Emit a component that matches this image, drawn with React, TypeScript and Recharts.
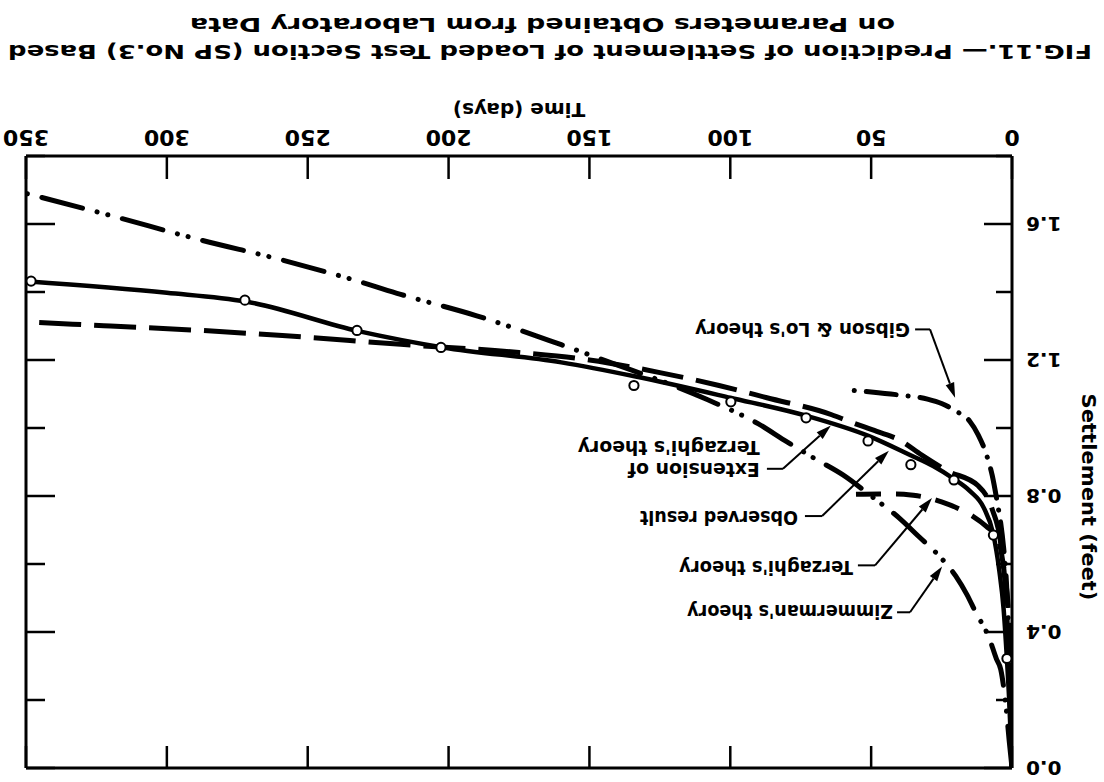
import React from 'react';
import { ComposedChart, Line, Scatter, XAxis, YAxis, ReferenceLine, ReferenceDot } from 'recharts';

type P = { d: number; s: number };
const toPts = (a: number[][]): P[] => a.map(([d, s]) => ({ d, s }));

// axes
const timeTicks = [0, 50, 100, 150, 200, 250, 300, 350];
const settlementTicks = [0, 0.2, 0.4, 0.6, 0.8, 1.0, 1.2, 1.4, 1.6, 1.8];

// series: [time (days), settlement (feet)]
const observedCurve = toPts([
  [0, 0], [0.5, 0.1], [1, 0.2], [1.8, 0.32], [3, 0.47], [4.5, 0.58], [6.7, 0.69], [10, 0.765],
  [15, 0.815], [20.6, 0.85], [28, 0.888], [36, 0.92], [51, 0.977], [73, 1.036], [100, 1.089],
  [134, 1.152], [160, 1.193], [202, 1.237], [232, 1.285], [272, 1.372], [300, 1.398], [350, 1.432],
]);
const observedPoints = toPts([
  [348.2, 1.432], [272.3, 1.376], [232.5, 1.287], [202.7, 1.237], [134.2, 1.125], [99.8, 1.077],
  [73.1, 1.03], [51.1, 0.962], [35.9, 0.892], [20.6, 0.847], [6.6, 0.685], [1.8, 0.322],
]);
const extensionTerzaghi = toPts([
  [0, 0], [1, 0.28], [2, 0.48], [4, 0.66], [7, 0.76], [12, 0.83], [23, 0.874], [32, 0.92],
  [40, 0.965], [48, 0.99], [58, 1.02], [64, 1.039], [87, 1.089], [104, 1.125], [125, 1.163],
  [150, 1.2], [175, 1.222], [217, 1.246], [259, 1.272], [288, 1.287], [320, 1.3], [350, 1.312],
]);
const terzaghi = toPts([
  [0, 0], [0.5, 0.2], [1, 0.38], [1.4, 0.478], [2.5, 0.56], [4.3, 0.655], [6, 0.685], [9, 0.71],
  [14, 0.741], [19.5, 0.765], [25, 0.783], [30, 0.795], [35, 0.802], [41, 0.806], [47, 0.806], [56, 0.805],
]);
const gibsonLo = toPts([
  [0, 0], [0.6, 0.2], [1.2, 0.4], [2, 0.55], [3, 0.65], [4, 0.72], [5, 0.77], [7, 0.86], [9, 0.92],
  [12, 0.98], [15, 1.02], [20, 1.05], [25, 1.072], [30, 1.085], [40, 1.097], [50, 1.106], [60, 1.113],
]);
const zimmerman = toPts([
  [0, 0], [1, 0.08], [2, 0.17], [3, 0.24], [4, 0.29], [5.5, 0.32], [8, 0.38], [13, 0.46], [16, 0.51],
  [20, 0.565], [26, 0.625], [33, 0.68], [40, 0.735], [50, 0.8], [60, 0.862], [70, 0.91], [80, 0.96],
  [90, 1.012], [108, 1.083], [125, 1.14], [140, 1.185], [160, 1.245], [190, 1.33], [217, 1.393],
  [231, 1.429], [259, 1.494], [288, 1.553], [320, 1.625], [350, 1.69],
]);

// annotation anchors in data units [time, settlement]
const labelTexts = ["Gibson & Lo's theory", 'Extension of', "Terzaghi's theory", 'Observed result', "Terzaghi's theory", "Zimmerman's theory"];
const labelAnchors = [[36.2, 1.287], [89.5, 0.877], [89.5, 0.942], [76, 0.735], [56.4, 0.587], [42.2, 0.46]];
const leaderPaths = [
  [[34.4, 1.29], [29.1, 1.29], [20.2, 1.089]],
  [[87, 0.88], [81.3, 0.88], [64.3, 1.007]],
  [[73.5, 0.741], [67.4, 0.741], [43.7, 0.933]],
  [[54.7, 0.596], [48.6, 0.596], [28.4, 0.794]],
  [[40.8, 0.458], [36.2, 0.458], [24.8, 0.593]],
];

const FONT = '"DejaVu Sans", "Liberation Sans", sans-serif';
const labelWidths = [215, 132, 182, 158, 174, 206];

const isMajor = (v: number) => Math.round(v * 10) % 4 === 0;

const BottomTick = (p: any) => (
  <g>
    <line x1={p.x} y1={p.y} x2={p.x} y2={p.y - 23} stroke="#000" strokeWidth={2.5} />
    <text x={p.x} y={p.y + 26} textAnchor="middle" fontFamily={FONT} fontWeight="bold" fontSize={22} fill="#000">
      {p.payload.value}
    </text>
  </g>
);
const TopTick = (p: any) => (
  <line x1={p.x} y1={p.y} x2={p.x} y2={p.y + 22} stroke="#000" strokeWidth={2.5} />
);
const LeftTick = (p: any) => {
  const v = p.payload.value;
  const m = isMajor(v);
  return (
    <g>
      <line x1={p.x} y1={p.y} x2={p.x + (m ? 28 : 16)} y2={p.y} stroke="#000" strokeWidth={2.5} />
      {m && (
        <text x={p.x - 14} y={p.y + 7.5} textAnchor="end" fontFamily={FONT} fontWeight="bold" fontSize={20} fill="#000">
          {v.toFixed(1)}
        </text>
      )}
    </g>
  );
};
const RightTick = (p: any) => {
  const v = p.payload.value;
  const m = isMajor(v);
  return <line x1={p.x} y1={p.y} x2={p.x - (m ? 29 : 19)} y2={p.y} stroke="#000" strokeWidth={2.5} />;
};

const OpenCircle = (p: any) => (
  <circle cx={p.cx} cy={p.cy} r={4.6} fill="#fff" stroke="#000" strokeWidth={2} />
);

const LeaderSeg = (arrow: boolean) => (p: any) => {
  const { x1, y1, x2, y2 } = p;
  if ([x1, y1, x2, y2].some((v) => typeof v !== 'number' || isNaN(v))) return <g />;
  if (!arrow) return <line x1={x1} y1={y1} x2={x2} y2={y2} stroke="#000" strokeWidth={2} />;
  const a = Math.atan2(y2 - y1, x2 - x1);
  const L = 15, W = 4.5;
  const bx = x2 - L * Math.cos(a), by = y2 - L * Math.sin(a);
  const px = -Math.sin(a) * W, py = Math.cos(a) * W;
  return (
    <g>
      <line x1={x1} y1={y1} x2={bx} y2={by} stroke="#000" strokeWidth={2} />
      <polygon points={`${x2},${y2} ${bx + px},${by + py} ${bx - px},${by - py}`} fill="#000" />
    </g>
  );
};

const LabelShape = (text: string, width: number) => (p: any) => (
  <text x={p.cx} y={p.cy + 7} fontFamily={FONT} fontWeight="bold" fontSize={19} fill="#000"
    textLength={width} lengthAdjust="spacingAndGlyphs">{text}</text>
);

const axisLine = { stroke: '#000', strokeWidth: 3 };

export default function App() {
  return (
    <div style={{ position: 'absolute', left: 0, top: 0, width: 1104, height: 782, background: '#fff', transform: 'rotate(180deg)' }}>
      <ComposedChart width={1104} height={782} margin={{ top: 4, right: 10, bottom: 96, left: 0 }}>
        <XAxis xAxisId="b" dataKey="d" type="number" domain={[0, 350]} ticks={timeTicks} interval={0}
          orientation="bottom" height={60} tickSize={0} tickMargin={0} tickLine={false}
          axisLine={axisLine} tick={BottomTick} allowDataOverflow />
        <XAxis xAxisId="t" dataKey="d" type="number" domain={[0, 350]} ticks={timeTicks} interval={0}
          orientation="top" height={10} tickSize={0} tickMargin={0} tickLine={false}
          axisLine={axisLine} tick={TopTick} allowDataOverflow />
        <YAxis yAxisId="l" dataKey="s" type="number" domain={[0, 1.8]} reversed ticks={settlementTicks} interval={0}
          orientation="left" width={92} tickSize={0} tickMargin={0} tickLine={false}
          axisLine={axisLine} tick={LeftTick} allowDataOverflow />
        <YAxis yAxisId="r" dataKey="s" type="number" domain={[0, 1.8]} reversed ticks={settlementTicks} interval={0}
          orientation="right" width={16} tickSize={0} tickMargin={0} tickLine={false}
          axisLine={axisLine} tick={RightTick} allowDataOverflow />

        <Line xAxisId="b" yAxisId="l" data={zimmerman} dataKey="s" type="monotone" stroke="#000" strokeWidth={5}
          strokeDasharray="42 15 0.1 11 0.1 15" strokeLinecap="round" dot={false} activeDot={false} isAnimationActive={false} />
        <Line xAxisId="b" yAxisId="l" data={gibsonLo} dataKey="s" type="monotone" stroke="#000" strokeWidth={5}
          strokeDasharray="30 12 0.1 12" strokeLinecap="round" dot={false} activeDot={false} isAnimationActive={false} />
        <Line xAxisId="b" yAxisId="l" data={terzaghi} dataKey="s" type="monotone" stroke="#000" strokeWidth={5}
          strokeDasharray="25 15" dot={false} activeDot={false} isAnimationActive={false} />
        <Line xAxisId="b" yAxisId="l" data={extensionTerzaghi} dataKey="s" type="monotone" stroke="#000" strokeWidth={5}
          strokeDasharray="42 13" dot={false} activeDot={false} isAnimationActive={false} />
        <Line xAxisId="b" yAxisId="l" data={observedCurve} dataKey="s" type="monotone" stroke="#000" strokeWidth={4.5}
          dot={false} activeDot={false} isAnimationActive={false} />
        <Scatter xAxisId="b" yAxisId="l" data={observedPoints} dataKey="s" shape={OpenCircle} isAnimationActive={false} />

        {leaderPaths.map((path, i) =>
          path.slice(1).map((pt, j) => (
            <ReferenceLine key={`ld${i}-${j}`} xAxisId="b" yAxisId="l" ifOverflow="visible"
              segment={[{ x: path[j][0], y: path[j][1] }, { x: pt[0], y: pt[1] }]}
              shape={LeaderSeg(j === path.length - 2)} />
          ))
        )}
        {labelTexts.map((t, i) => (
          <ReferenceDot key={`lb${i}`} xAxisId="b" yAxisId="l" x={labelAnchors[i][0]} y={labelAnchors[i][1]}
            ifOverflow="visible" shape={LabelShape(t, labelWidths[i])} />
        ))}
      </ComposedChart>
      <svg width={1104} height={782} style={{ position: 'absolute', left: 0, top: 0, pointerEvents: 'none' }}>
        <text x={585} y={679} textAnchor="middle" fontFamily={FONT} fontWeight="bold" fontSize={20} fill="#000">Time (days)</text>
        <text transform="translate(22,285) rotate(-90)" textAnchor="middle" fontFamily={FONT} fontWeight="bold" fontSize={20}
          fill="#000" textLength={207} lengthAdjust="spacingAndGlyphs">Settlement (feet)</text>
        <text x={12} y={737} fontFamily={FONT} fontWeight="bold" fontSize={20} fill="#000" textLength={1084}
          lengthAdjust="spacingAndGlyphs">FIG.11.— Prediction of Settlement of Loaded Test Section (SP No.3) Based</text>
        <text x={209} y={764} fontFamily={FONT} fontWeight="bold" fontSize={20} fill="#000" textLength={705}
          lengthAdjust="spacingAndGlyphs">on Parameters Obtained from Laboratory Data</text>
      </svg>
    </div>
  );
}
